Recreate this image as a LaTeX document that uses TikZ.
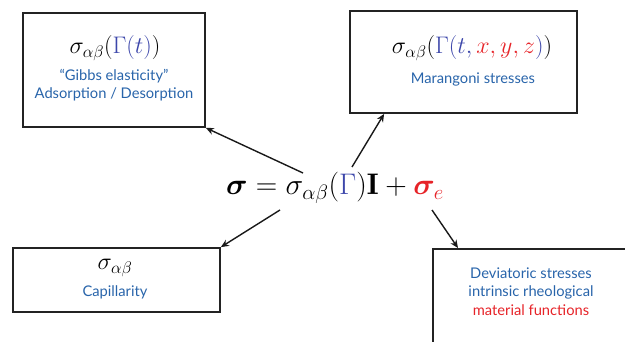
\RequirePackage{fix-cm}
\documentclass[tikz,border=0pt]{standalone}
\usepackage{amsmath}
\usepackage{bm}
\usepackage{fontspec}
\usetikzlibrary{arrows.meta}
\newfontfamily\labelfont[Ligatures=TeX]{Lato}
\definecolor{txtblue}{RGB}{40,100,170}
\definecolor{gblue}{RGB}{60,70,170}
\definecolor{ered}{RGB}{230,35,40}
\definecolor{boxline}{RGB}{35,35,35}
\begin{document}
\begin{tikzpicture}[x=1pt,y=-1pt,
  box/.style={draw=boxline,line width=1.8pt,inner sep=0pt},
  conn/.style={draw=black!90,line width=1.4pt,-{Stealth[length=8pt,width=7pt]}},
  lab/.style={font=\labelfont\fontsize{14.7}{17}\selectfont,text=txtblue,inner sep=0pt,align=center},
  frm/.style={font=\fontsize{24}{28}\selectfont,inner sep=0pt}]
\useasboundingbox (0,0) rectangle (625,342);
\clip (0,0) rectangle (625,342);
% boxes
\node[box,minimum width=182pt,minimum height=114pt] (b1) at (114,70) {};
\node[box,minimum width=227pt,minimum height=102pt] (b2) at (463.5,62) {};
\node[box,minimum width=207pt,minimum height=64pt] (b3) at (116.5,280) {};
\node[box,minimum width=220pt,minimum height=130pt,anchor=north west] (b4) at (432,248) {};
% box texts
\node[frm] (f1) at (115,48) {$\sigma_{\alpha\beta}(\textcolor{gblue}{\Gamma(t)})$};
\node[lab] (l1a) at (114,76) {“Gibbs elasticity”};
\node[lab] (l1b) at (114,94) {Adsorption / Desorption};
\node[frm] (f2) at (472,48) {$\sigma_{\alpha\beta}(\textcolor{gblue}{\Gamma(t,\textcolor{ered}{x,y,z})})$};
\node[lab] (l2) at (473,79) {Marangoni stresses};
\node[frm] (f3) at (115,268) {$\sigma_{\alpha\beta}$};
\node[lab] (l3) at (115,292) {Capillarity};
\node[lab] (l4a) at (531,273) {Deviatoric stresses};
\node[lab] (l4b) at (531,292) {intrinsic rheological};
\node[lab,text=ered] (l4c) at (531,310) {material functions};
% equation
\node[font=\fontsize{29.8}{35}\selectfont,inner sep=0pt] (eq) at (335,188)
  {$\bm{\sigma}=\sigma_{\alpha\beta}(\textcolor{gblue}{\Gamma})\mathbf{I}+\textcolor{ered}{\bm{\sigma}_{e}}$};
% connector starts
\coordinate (s1) at (303,173);
\coordinate (s2) at (352,167);
\coordinate (s3) at (280,210);
\coordinate (s4) at (432,210);
\draw[conn] (s1) -- (b1.south east);
\draw[conn] (s2) -- ([xshift=35pt]b2.south west);
\draw[conn] (s3) -- (b3.north east);
\draw[conn] (s4) -- ([xshift=26pt]b4.north west);
\end{tikzpicture}
\end{document}
